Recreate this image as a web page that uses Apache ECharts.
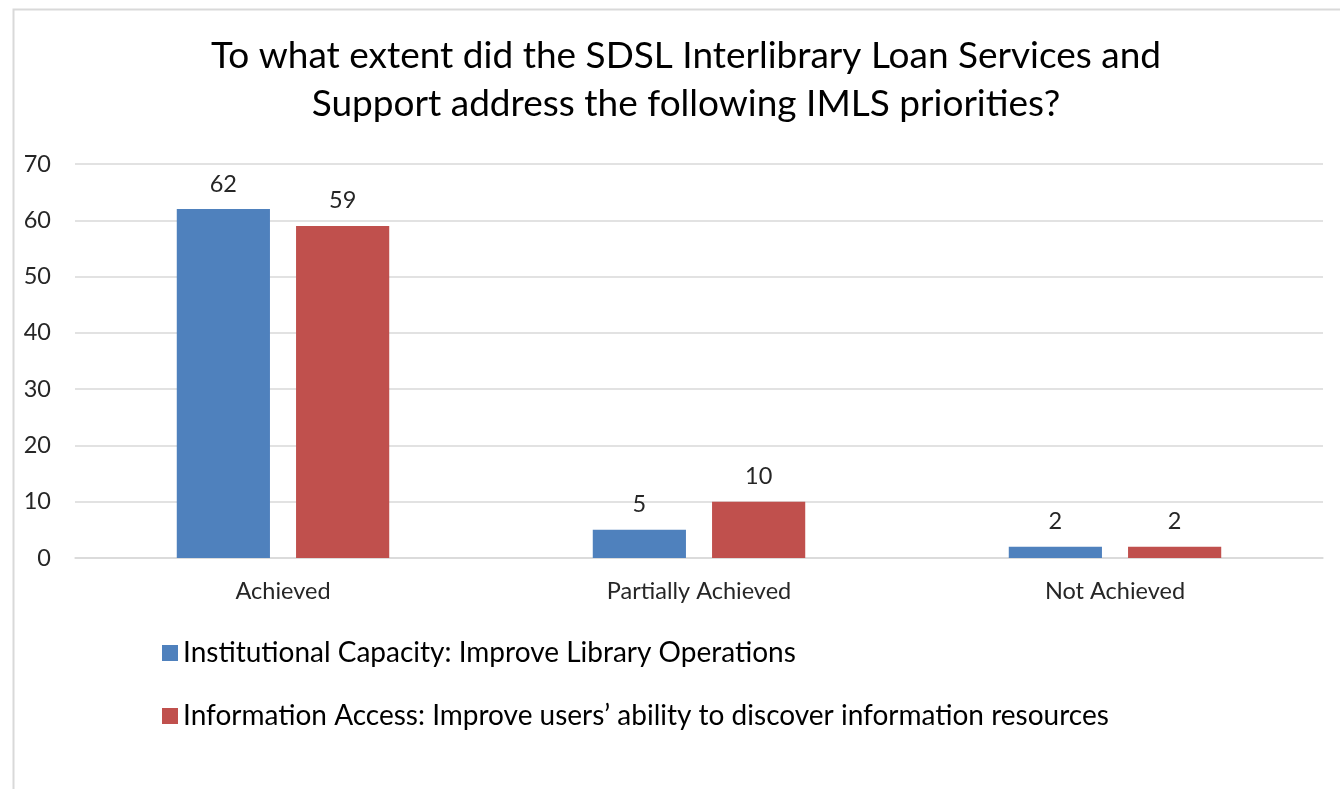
<!DOCTYPE html>
<html>
<head>
<meta charset="utf-8">
<script src="https://cdn.jsdelivr.net/npm/echarts@6/dist/echarts.min.js"></script>
<style>
html,body{margin:0;padding:0;background:#fff;}
#c{width:1340px;height:789px;}
</style>
</head>
<body>
<div id="c"></div>
<script>
const titleText = "To what extent did the SDSL Interlibrary Loan Services and\nSupport address the following IMLS priorities?";
const categories = ["Achieved", "Partially Achieved", "Not Achieved"];
const seriesNames = ["Institutional Capacity: Improve Library Operations", "Information Access: Improve users\u2019 ability to discover information resources"];
const institutionalValues = [62, 5, 2];
const informationValues = [59, 10, 2];
const yTicks = [0, 10, 20, 30, 40, 50, 60, 70];

const font = "Lato";
const chart = echarts.init(document.getElementById('c'));
chart.setOption({
  animation: false,
  backgroundColor: '#ffffff',
  graphic: [{
    type: 'rect', left: 11, top: 7,
    shape: { width: 1400, height: 900 },
    style: { fill: 'none', stroke: '#d9d9d9', lineWidth: 2 },
    silent: true, z: -1
  }],
  title: {
    text: titleText,
    left: 681, top: 27, textAlign: 'center',
    textStyle: { fontFamily: font, fontSize: 37, fontWeight: 'normal', color: '#000000', lineHeight: 48 }
  },
  legend: {
    orient: 'vertical', left: 157, top: 634,
    itemWidth: 16, itemHeight: 16, itemGap: 35, icon: 'rect',
    textStyle: { fontFamily: font, fontSize: 28, color: '#000000' },
    data: seriesNames
  },
  grid: { left: 75, right: 17, top: 164, bottom: 231, containLabel: false },
  xAxis: {
    type: 'category', data: categories,
    axisLine: { show: true, lineStyle: { color: '#d9d9d9', width: 1.5 } },
    axisTick: { show: false },
    axisLabel: { fontFamily: font, fontSize: 23.5, color: '#262626', margin: 21 }
  },
  yAxis: {
    type: 'value', min: yTicks[0], max: yTicks[yTicks.length - 1], interval: 10,
    axisLine: { show: false }, axisTick: { show: false },
    axisLabel: { fontFamily: font, fontSize: 23.5, color: '#262626', margin: 24 },
    splitLine: { lineStyle: { color: '#d9d9d9', width: 1.5 } }
  },
  series: [
    {
      name: seriesNames[0], type: 'bar', data: institutionalValues,
      barWidth: '22.4%', barGap: '28%',
      itemStyle: { color: '#4F81BD' },
      label: { show: true, position: 'top', distance: 13, fontFamily: font, fontSize: 23.5, color: '#262626' }
    },
    {
      name: seriesNames[1], type: 'bar', data: informationValues,
      barWidth: '22.4%', barGap: '28%',
      itemStyle: { color: '#C0504D' },
      label: { show: true, position: 'top', distance: 13, fontFamily: font, fontSize: 23.5, color: '#262626' }
    }
  ]
});
</script>
</body>
</html>
